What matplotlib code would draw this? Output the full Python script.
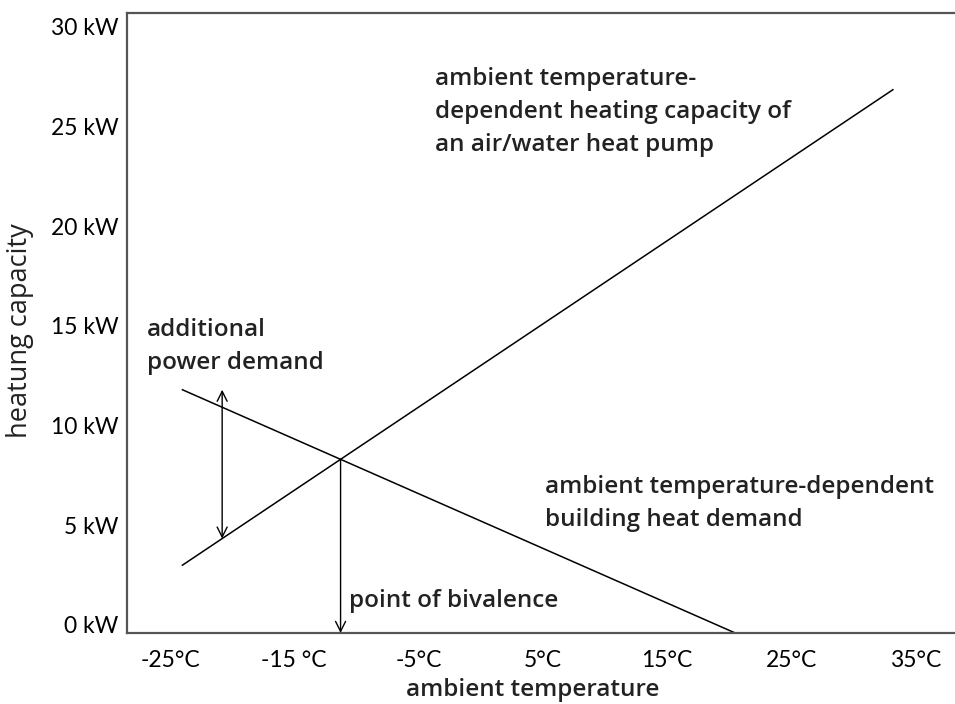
import numpy as np
import matplotlib
matplotlib.use("Agg")
import matplotlib.pyplot as plt
from matplotlib.transforms import ScaledTranslation

# heat pump capacity line (ambient temp in °C, capacity in kW)
hp_temp = [-24.0, 33.2]
hp_capacity = [3.4, 27.25]

# building heat demand line
demand_temp = [-24.0, 20.5]
demand_load = [12.2, 0.0]

# where the "additional power demand" arrow sits
extra_temp = -20.8

xticks = [-25, -15, -5, 5, 15, 25, 35]
xticklabels = ["-25°C", "-15 °C", "-5°C", "5°C", "15°C", "25°C", "35°C"]
yticks = [0, 5, 10, 15, 20, 25, 30]
yticklabels = ["0 kW", "5 kW", "10 kW", "15 kW", "20 kW", "25 kW", "30 kW"]

fig = plt.figure(figsize=(9.55, 7.04), dpi=100)
ax = fig.add_axes([0.133, 0.1009, 0.867, 0.8807])

ax.plot(hp_temp, hp_capacity, color="black", lw=1.1)
ax.plot(demand_temp, demand_load, color="black", lw=1.1)

# point of bivalence = intersection of the two lines
m1 = (hp_capacity[1] - hp_capacity[0]) / (hp_temp[1] - hp_temp[0])
m2 = (demand_load[1] - demand_load[0]) / (demand_temp[1] - demand_temp[0])
b1 = hp_capacity[0] - m1 * hp_temp[0]
b2 = demand_load[0] - m2 * demand_temp[0]
biv_x = (b2 - b1) / (m1 - m2)
biv_y = m1 * biv_x + b1

ax.annotate("", xy=(biv_x, 0), xytext=(biv_x, biv_y),
            arrowprops=dict(arrowstyle="->", color="black", lw=1.0,
                            shrinkA=0, shrinkB=0, mutation_scale=18))

y_top = np.interp(extra_temp, demand_temp[::-1], demand_load[::-1])
y_bot = np.interp(extra_temp, hp_temp, hp_capacity)
ax.annotate("", xy=(extra_temp, y_top), xytext=(extra_temp, y_bot),
            arrowprops=dict(arrowstyle="<->", color="black", lw=1.0,
                            shrinkA=0, shrinkB=0, mutation_scale=18))

ax.set_xlim(-28.46, 38.2)
ax.set_ylim(0, 31.1)

ax.set_xticks(xticks)
ax.set_xticklabels(xticklabels, family="Lato", fontsize=16.5)
ax.set_yticks(yticks)
ax.set_yticklabels(yticklabels, family="Lato", fontsize=16.5)
ax.tick_params(axis="x", length=0, pad=12)
ax.tick_params(axis="y", length=0, pad=6)
for lab in ax.get_yticklabels():
    lab.set_transform(lab.get_transform() + ScaledTranslation(0, 0.08, fig.dpi_scale_trans))

for s in ["left", "top", "bottom"]:
    ax.spines[s].set_color("#555555")
    ax.spines[s].set_linewidth(1.6)
ax.spines["right"].set_visible(False)

tfont = dict(family="Open Sans", fontsize=17.5, fontweight="semibold", color="#222222")
ax.text(0.372, 0.913, "ambient temperature-\ndependent heating capacity of\nan air/water heat pump",
        transform=ax.transAxes, va="top", ha="left", linespacing=1.5, **tfont)
ax.text(0.024, 0.508, "additional\npower demand",
        transform=ax.transAxes, va="top", ha="left", linespacing=1.5, **tfont)
ax.text(0.505, 0.255, "ambient temperature-dependent\nbuilding heat demand",
        transform=ax.transAxes, va="top", ha="left", linespacing=1.5, **tfont)
ax.text(0.268, 0.0516, "point of bivalence",
        transform=ax.transAxes, va="center", ha="left", **tfont)

fig.text(0.558, 0.02, "ambient temperature", ha="center", va="center", **tfont)
fig.text(0.021, 0.53, "heatung capacity", ha="center", va="center", rotation=90,
         family="Open Sans", fontsize=19.5, color="#222222")

fig.savefig("out.png", dpi=100)
